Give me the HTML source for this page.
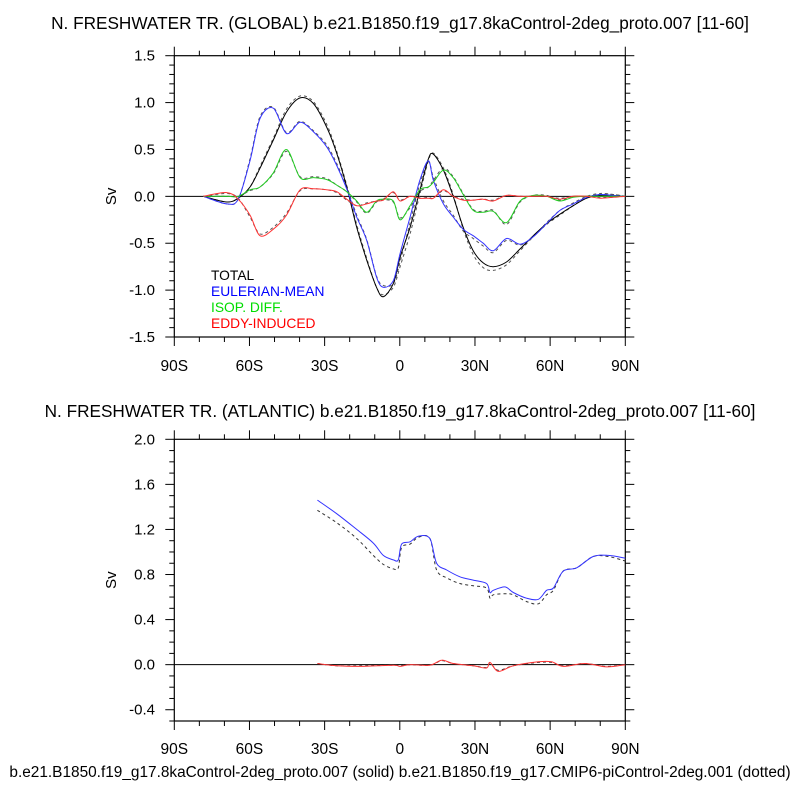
<!DOCTYPE html>
<html><head><meta charset="utf-8"><style>
body{margin:0;background:#fff;font-family:"Liberation Sans",sans-serif}
svg text{font-family:"Liberation Sans",sans-serif}
</style></head><body>
<svg id="c" width="800" height="800" viewBox="0 0 800 800">
<text x="400" y="29" font-size="17.2" text-anchor="middle">N. FRESHWATER TR. (GLOBAL) b.e21.B1850.f19_g17.8kaControl-2deg_proto.007 [11-60]</text>
<text x="400" y="417" font-size="17.2" text-anchor="middle">N. FRESHWATER TR. (ATLANTIC) b.e21.B1850.f19_g17.8kaControl-2deg_proto.007 [11-60]</text>
<text x="400" y="777" font-size="15.4" text-anchor="middle">b.e21.B1850.f19_g17.8kaControl-2deg_proto.007 (solid) b.e21.B1850.f19_g17.CMIP6-piControl-2deg.001 (dotted)</text>
<g font-size="13.8">
<text x="211" y="280" fill="#000">TOTAL</text>
<text x="211" y="296" fill="#0000ff">EULERIAN-MEAN</text>
<text x="211" y="312" fill="#00dd00">ISOP. DIFF.</text>
<text x="211" y="328" fill="#ff0000">EDDY-INDUCED</text>
</g>
</svg>
<script>
const topLats=[-78.4,-69.1,-64.5,-59.8,-55.8,-50.5,-45.2,-39.8,-34.5,-29.2,-25.2,-21.2,-17.2,-13.2,-9.3,-6.6,-2.6,0.1,4.1,8.0,11.4,13.4,17.4,21.3,25.3,29.3,33.3,37.3,42.6,48.0,53.3,58.6,63.9,69.2,74.6,79.9,85.2,90];
const totalSolid=[0,-0.06,-0.02,0.1,0.3,0.6,0.9,1.05,0.99,0.74,0.46,0.1,-0.33,-0.68,-0.97,-1.07,-0.93,-0.65,-0.33,0.06,0.4,0.45,0.28,0,-0.33,-0.58,-0.71,-0.75,-0.7,-0.56,-0.42,-0.29,-0.19,-0.1,-0.02,0.01,0.01,0];
const totalDot=[0,-0.06,-0.02,0.1,0.32,0.62,0.93,1.07,1.01,0.77,0.48,0.12,-0.3,-0.66,-0.97,-1.05,-0.97,-0.75,-0.4,0.02,0.38,0.46,0.3,0.02,-0.35,-0.62,-0.76,-0.79,-0.73,-0.58,-0.43,-0.3,-0.2,-0.1,-0.01,0.02,0.02,0];
const eulSolid=[0,-0.08,-0.03,0.38,0.83,0.94,0.67,0.79,0.69,0.53,0.33,0.08,-0.22,-0.47,-0.86,-0.97,-0.9,-0.61,-0.22,0.17,0.38,0.17,-0.08,-0.22,-0.35,-0.42,-0.5,-0.58,-0.45,-0.51,-0.43,-0.29,-0.15,-0.08,-0.01,0.02,0.01,0];
const eulDot=[0,-0.08,-0.03,0.4,0.85,0.95,0.68,0.8,0.7,0.55,0.35,0.1,-0.2,-0.46,-0.85,-0.95,-0.93,-0.7,-0.28,0.13,0.37,0.2,-0.05,-0.2,-0.37,-0.45,-0.53,-0.6,-0.47,-0.52,-0.43,-0.28,-0.15,-0.07,0,0.03,0.02,0];
const isoSolid=[0,0,0,0.07,0.1,0.25,0.5,0.2,0.2,0.18,0.12,0.05,-0.05,-0.17,-0.05,-0.03,-0.05,-0.25,-0.1,0.07,0.1,0.15,0.28,0.2,0.02,-0.15,-0.17,-0.16,-0.28,-0.05,0.01,0,-0.05,-0.01,0,0,0,0];
const isoDot=[0,0,0,0.06,0.1,0.24,0.48,0.21,0.21,0.19,0.12,0.05,-0.06,-0.18,-0.06,-0.04,-0.06,-0.23,-0.12,0.05,0.1,0.17,0.3,0.21,0.03,-0.14,-0.16,-0.15,-0.3,-0.06,0.01,0.01,-0.04,0,0,0,0,0];
const eddySolid=[0,0.04,-0.03,-0.2,-0.42,-0.35,-0.2,0.07,0.08,0.07,0.05,-0.03,-0.1,-0.08,-0.05,-0.04,0.05,-0.05,0,-0.02,-0.02,-0.02,0.07,0,-0.04,-0.04,-0.03,-0.05,0.01,0,0,0,-0.03,0,0,-0.02,-0.01,0];
const eddyDot=[0,0.03,-0.02,-0.22,-0.4,-0.33,-0.18,0.06,0.08,0.07,0.04,-0.04,-0.1,-0.07,-0.05,-0.03,0.04,-0.04,0,-0.02,-0.01,-0.02,0.06,0,-0.03,-0.04,-0.03,-0.04,0.01,0,0,0,-0.02,0,0,-0.01,-0.01,0];
const botLats=[-32.9,-25.2,-17.2,-10.6,-6.6,-2.6,-0.6,0.7,4.1,7.4,12.0,14.7,18.7,24.0,29.3,34.6,36.0,37.3,42.0,45.3,50.6,55.3,58.6,61.3,65.2,70.6,77.2,83.2,90];
const atlEul=[1.46,1.34,1.2,1.08,0.97,0.93,0.93,1.07,1.09,1.14,1.12,0.9,0.84,0.78,0.75,0.72,0.64,0.66,0.69,0.64,0.59,0.58,0.66,0.68,0.83,0.86,0.96,0.97,0.945];
const atlTotDot=[1.37,1.26,1.12,0.97,0.89,0.85,0.86,1.04,1.07,1.13,1.12,0.84,0.77,0.72,0.7,0.68,0.59,0.62,0.63,0.62,0.56,0.54,0.62,0.66,0.83,0.86,0.96,0.96,0.92];
const redLats=[-32.9,-25.2,-15.9,-2.6,0.1,4.1,12.0,16.7,21.3,29.3,34.6,36.0,39.3,45.3,55.3,60.6,65.2,73.9,82.5,90];
const atlEddy=[0.01,-0.01,-0.015,-0.005,-0.015,0,-0.005,0.04,0.01,-0.01,-0.03,0.02,-0.06,-0.01,0.025,0.025,-0.015,0.01,-0.02,0];
const atlEddyDot=[0.01,-0.01,-0.01,-0.005,-0.01,0,-0.005,0.035,0.01,-0.01,-0.025,0.015,-0.05,-0.01,0.02,0.02,-0.01,0.01,-0.015,0];
const xTickLabels=["90S","60S","30S","0","30N","60N","90N"];
const topYTicks=["1.5","1.0","0.5","0.0","-0.5","-1.0","-1.5"];
const botYTicks=["2.0","1.6","1.2","0.8","0.4","0.0","-0.4"];

const NS='http://www.w3.org/2000/svg';
const svg=document.getElementById('c');
const X0=174.3,X1=625.3;
function xs(lat){return X0+(lat+90)/180*(X1-X0);}
function mk(t,a){const e=document.createElementNS(NS,t);for(const k in a)e.setAttribute(k,a[k]);svg.appendChild(e);return e;}
function panel(name,top,bot,ymin,ymax,major,ticks,labY){
  const ys=v=>bot-(v-ymin)/(ymax-ymin)*(bot-top);
  const box=mk('rect',{x:X0,y:top,width:X1-X0,height:bot-top,fill:'none',stroke:'#000','stroke-width':1.2});
  
  
  for(let d=-90;d<=90;d+=10){
    const L=d%30===0?9:5,x=xs(d);
    const t1=mk('line',{x1:x,x2:x,y1:bot,y2:bot+L,stroke:'#000','stroke-width':1});
    
    
    const t2=mk('line',{x1:x,x2:x,y1:top,y2:top-L,stroke:'#000','stroke-width':1});
    
    
  }
  xTickLabels.forEach((s,i)=>{const t=mk('text',{x:xs(-90+30*i),y:labY,'font-size':15.5,'text-anchor':'middle'});t.textContent=s;
    
    });
  const n=Math.round((ymax-ymin)/0.1);
  for(let i=0;i<=n;i++){
    const v=ymin+i*0.1,y=ys(v);const isMaj=Math.abs(v/major-Math.round(v/major))<1e-6;const L=isMaj?9:5;
    const a=mk('line',{x1:X0-L,x2:X0,y1:y,y2:y,stroke:'#000','stroke-width':1});
    
    
    const b=mk('line',{x1:X1,x2:X1+L,y1:y,y2:y,stroke:'#000','stroke-width':1});
    
    
  }
  ticks.forEach(s=>{const t=mk('text',{x:155,y:ys(parseFloat(s))+5,'font-size':15,'text-anchor':'end'});t.textContent=s;
    
    });
  const yt=mk('text',{x:0,y:0,'font-size':15,'text-anchor':'middle',transform:`translate(116,${(top+bot)/2}) rotate(-90)`});yt.textContent='Sv';
  
  
  const z=mk('line',{x1:X0,x2:X1,y1:ys(0),y2:ys(0),stroke:'#000','stroke-width':1});
  
  
  return ys;
}
function line(ys,lats,vals,color,dotted,nm){
  const P=lats.map((l,i)=>[xs(l),ys(vals[i])]);
  let d='M'+P[0][0].toFixed(1)+','+P[0][1].toFixed(1);
  for(let i=0;i<P.length-1;i++){
    const p0=P[Math.max(0,i-1)],p1=P[i],p2=P[i+1],p3=P[Math.min(P.length-1,i+2)];
    const t=0.16;
    const c1=[p1[0]+(p2[0]-p0[0])*t,p1[1]+(p2[1]-p0[1])*t];
    const c2=[p2[0]-(p3[0]-p1[0])*t,p2[1]-(p3[1]-p1[1])*t];
    d+=` C${c1[0].toFixed(1)},${c1[1].toFixed(1)} ${c2[0].toFixed(1)},${c2[1].toFixed(1)} ${p2[0].toFixed(1)},${p2[1].toFixed(1)}`;
  }
  const p=mk('path',{d,fill:'none',stroke:color,'stroke-width':1,'stroke-dasharray':dotted?'3,3':'none'});
  
  
}
const ysT=panel('global',55.7,337,-1.5,1.5,0.5,topYTicks,371);
line(ysT,topLats,totalDot,'#555',true,'global-total-dotted');
line(ysT,topLats,eulDot,'#555',true,'global-eulerian-dotted');
line(ysT,topLats,isoDot,'#555',true,'global-isop-dotted');
line(ysT,topLats,eddyDot,'#555',true,'global-eddy-dotted');
line(ysT,topLats,totalSolid,'#000',false,'global-total-line');
line(ysT,topLats,eulSolid,'#3333ff',false,'global-eulerian-line');
line(ysT,topLats,isoSolid,'#22cc22',false,'global-isop-line');
line(ysT,topLats,eddySolid,'#ff3333',false,'global-eddy-line');
const ysB=panel('atlantic',439.3,721,-0.5,2.0,0.4,botYTicks,754);
line(ysB,botLats,atlTotDot,'#333',true,'atlantic-total-dotted');
line(ysB,redLats,atlEddyDot,'#333',true,'atlantic-eddy-dotted');
line(ysB,botLats,atlEul,'#3333ff',false,'atlantic-eulerian-line');
line(ysB,redLats,atlEddy,'#ff3333',false,'atlantic-eddy-line');
</script>
</body></html>
